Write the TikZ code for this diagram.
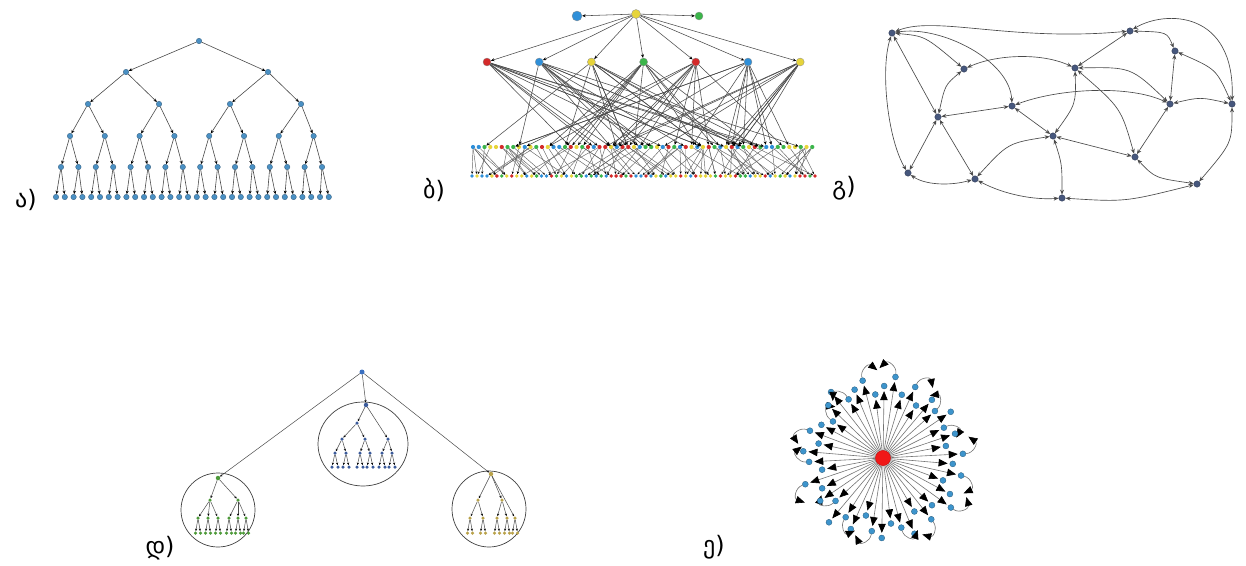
\documentclass[tikz,border=0pt]{standalone}
\usepackage{fontspec}
\newfontfamily\geofont{DejaVu Sans}
\usetikzlibrary{arrows.meta,calc}

\definecolor{edgegray}{HTML}{4A4A4A}
\definecolor{ablue}{HTML}{4A90C4}
\definecolor{bred}{HTML}{D42A2A}
\definecolor{bblue}{HTML}{2F8FD8}
\definecolor{byellow}{HTML}{E6D43A}
\definecolor{bgreen}{HTML}{3BB54A}
\colorlet{bc0}{bred}
\colorlet{bc1}{bblue}
\colorlet{bc2}{byellow}
\colorlet{bc3}{bgreen}
\definecolor{cnode}{HTML}{46577D}
\definecolor{droot}{HTML}{3A6FC0}
\definecolor{dblue}{HTML}{3B5B9B}
\definecolor{dgreen}{HTML}{4E9A3A}
\definecolor{dolive}{HTML}{B9A24A}
\definecolor{ered}{HTML}{F01818}
\definecolor{eblue}{HTML}{3D94CC}

\begin{document}
\begin{tikzpicture}[x=1pt,y=-1pt,
  lbl/.style={font=\geofont\fontsize{24}{28}\selectfont, inner sep=0pt},
  tinytip/.style={-{Stealth[length=3.5pt,width=3pt,black]}},
  anode/.style={circle, inner sep=0pt, minimum size=5.5pt, fill=ablue, draw=ablue!60!black, line width=0.3pt},
  aedge/.style={draw=edgegray, line width=0.6pt, tinytip},
  bbig/.style={circle, inner sep=0pt, minimum size=8pt, draw=black!45, line width=0.3pt},
  bsmall/.style={circle, inner sep=0pt, minimum size=4.2pt},
  bedge/.style={draw=edgegray, line width=0.55pt, tinytip},
  bedgethin/.style={draw=edgegray!85, line width=0.45pt, -{Stealth[length=2.5pt,width=2.2pt,black]}},
  cnodestyle/.style={circle, inner sep=0pt, minimum size=6.5pt, fill=cnode, draw=cnode!60!black, line width=0.3pt},
  cedge/.style={draw=edgegray, line width=0.65pt, {Stealth[length=5pt,width=4pt]}-{Stealth[length=5pt,width=4pt]}},
  dnode/.style={circle, inner sep=0pt, minimum size=3.5pt},
  dedge/.style={draw=edgegray, line width=0.5pt, -{Stealth[length=2.5pt,width=2.2pt,black]}},
  ring/.style={draw=black!75, line width=0.7pt},
  ecentre/.style={circle, inner sep=0pt, minimum size=15pt, fill=ered, draw=ered!80!black, line width=0.3pt},
  eleaf/.style={circle, inner sep=0pt, minimum size=6pt, fill=eblue, draw=eblue!60!black, line width=0.3pt},
  espoke/.style={draw=black!55, line width=0.6pt, -{Triangle[length=9pt,width=7.5pt,black]}, shorten >=2pt},
  ehook/.style={draw=black!55, line width=0.6pt, -{Triangle[length=9pt,width=7.5pt,black]}}
]
\useasboundingbox (0,0) rectangle (1246,565);

% ---------------- (a) binary tree ----------------
\foreach \L/\xo/\dx/\yy/\n in {0/199/0/41/0,1/126/142/72/1,2/88/71/104/3,3/70/34.8/136/7,4/61/17.4/167/15,5/56/8.8/197/31}
  \foreach \i in {0,...,\n}
    \node[anode] (a-\L-\i) at ({\xo+\i*\dx},\yy) {};
\foreach \L in {1,...,5}{
  \pgfmathtruncatemacro{\q}{\L-1}
  \pgfmathtruncatemacro{\n}{2^\L-1}
  \foreach \i in {0,...,\n}{
    \pgfmathtruncatemacro{\p}{floor(\i/2)}
    \draw[aedge] (a-\q-\p) -- (a-\L-\i);
  }
}
\node[lbl] (la) at (26,200) {ა)};

% ---------------- (b) layered graph ----------------
\pgfmathsetseed{4321}
\node[bbig, fill=bblue, minimum size=10pt] (b0-l) at (577,16) {};
\node[bbig, fill=byellow, minimum size=9pt] (b0-c) at (636,14) {};
\node[bbig, fill=bgreen, minimum size=8pt] (b0-r) at (699,16) {};
\draw[bedge] (b0-c) -- (b0-l);
\draw[bedge] (b0-c) -- (b0-r);
\foreach \c [count=\i from 0] in {bred,bblue,byellow,bgreen,bred,bblue,byellow}
  \node[bbig, fill=\c] (b2-\i) at ({487+52.2*\i},62) {};
\foreach \i in {0,...,6}
  \draw[bedge] (b0-c) -- (b2-\i);
\foreach \i in {0,...,59}{
  \pgfmathrandominteger{\c}{0}{3}
  \node[bsmall, fill=bc\c] (b3-\i) at ({473+5.75*\i},147) {};
}
\foreach \i in {0,...,69}{
  \pgfmathrandominteger{\c}{0}{3}
  \node[bsmall, fill=bc\c, minimum size=3.8pt] (b4-\i) at ({472+4.97*\i},176) {};
}
\foreach \r in {0,...,6}
  \foreach \m in {1,...,10}{
    \pgfmathrandominteger{\t}{0}{59}
    \draw[bedge] (b2-\r) -- (b3-\t);
  }
\foreach \i in {0,...,69}{
  \pgfmathrandominteger{\d}{0}{16}
  \pgfmathtruncatemacro{\s}{max(0,min(59,round(\i*59/69)+\d-8))}
  \draw[bedgethin] (b3-\s) -- (b4-\i);
}
\foreach \i in {1,3,...,69}{
  \pgfmathrandominteger{\d}{0}{20}
  \pgfmathtruncatemacro{\s}{max(0,min(59,round(\i*59/69)+\d-10))}
  \draw[bedgethin] (b3-\s) -- (b4-\i);
}
\node[lbl] (lb) at (434,190) {ბ)};

% ---------------- (c) planar graph with curved edges ----------------
\foreach \n/\x/\y in {1/892/33, 2/1130/31, 3/1175/51, 4/964/69, 5/1075/68, 6/1012/106,
  7/1170/104, 8/1232/104, 9/938/117, 10/1053/136, 11/1135/157, 12/908/173,
  13/975/179, 14/1197/184, 15/1062/198}
  \node[cnodestyle] (c\n) at (\x,\y) {};
\draw[cedge] (c1) .. controls (935,15) and (1010,42) .. (c2);
\draw[cedge] (c1) .. controls (925,36) .. (c4);
\draw[cedge] (c1) .. controls (940,25) and (1010,60) .. (c6);
\draw[cedge] (c1) -- (c9);
\draw[cedge] (c1) .. controls (880,70) and (888,140) .. (c12);
\draw[cedge] (c4) .. controls (995,55) and (1040,52) .. (c5);
\draw[cedge] (c4) .. controls (945,85) .. (c9);
\draw[cedge] (c9) -- (c6);
\draw[cedge] (c9) -- (c12);
\draw[cedge] (c9) -- (c13);
\draw[cedge] (c6) -- (c10);
\draw[cedge] (c6) .. controls (1060,88) and (1130,85) .. (c7);
\draw[cedge] (c5) .. controls (1076,104) .. (c10);
\draw[cedge] (c5) .. controls (1121,108) .. (c11);
\draw[cedge] (c5) .. controls (1131,67) .. (c7);
\draw[cedge] (c5) -- (c2);
\draw[cedge] (c2) .. controls (1167,32) .. (c3);
\draw[cedge] (c2) .. controls (1165,10) and (1235,10) .. (c8);
\draw[cedge] (c3) -- (c7);
\draw[cedge] (c3) .. controls (1216,69) .. (c8);
\draw[cedge] (c7) -- (c11);
\draw[cedge] (c7) .. controls (1200,97) .. (c8);
\draw[cedge] (c8) .. controls (1232,143) .. (c14);
\draw[cedge] (c10) -- (c11);
\draw[cedge] (c10) .. controls (1008,143) .. (c13);
\draw[cedge] (c10) .. controls (1062,164) .. (c15);
\draw[cedge] (c11) .. controls (1155,178) .. (c14);
\draw[cedge] (c12) .. controls (925,185) and (950,186) .. (c13);
\draw[cedge] (c13) .. controls (1005,195) and (1035,200) .. (c15);
\draw[cedge] (c15) .. controls (1125,202) .. (c14);
\node[lbl] (lc) at (844,188) {გ)};

% ---------------- (d) tree of clustered subtrees ----------------
\draw[ring] (363,444) ellipse [x radius=45, y radius=42];
\draw[ring] (218,510) ellipse [x radius=37, y radius=37];
\draw[ring] (489,509) ellipse [x radius=37, y radius=38];
\node[dnode, fill=droot, minimum size=5pt] (d0) at (362,372) {};
% middle cluster
\node[dnode, fill=dblue, minimum size=4.5pt] (m0) at (366,405) {};
\node[dnode, fill=dblue] (m1) at (357,423) {};
\node[dnode, fill=dblue] (m2a) at (342,439) {};
\node[dnode, fill=dblue] (m2b) at (365,439) {};
\node[dnode, fill=dblue] (m2c) at (388,439) {};
\draw[dedge] (d0) -- (m0);
\draw[dedge] (m0) -- (m1);
\draw[dedge] (m0) -- (m2c);
\draw[dedge] (m1) -- (m2a);
\draw[dedge] (m1) -- (m2b);
\foreach \x/\p [count=\k] in {335/m2a,346/m2a,360/m2b,370/m2b,382/m2c,392/m2c}{
  \node[dnode, fill=dblue] (m3-\k) at (\x,453) {};
  \node[dnode, fill=dblue] (m4-\k-a) at (\x-3,467) {};
  \node[dnode, fill=dblue] (m4-\k-b) at (\x+3,467) {};
  \draw[dedge] (\p) -- (m3-\k);
  \draw[dedge] (m3-\k) -- (m4-\k-a);
  \draw[dedge] (m3-\k) -- (m4-\k-b);
}
% left cluster
\node[dnode, fill=dgreen, minimum size=4.5pt] (l0) at (218,478) {};
\node[dnode, fill=dgreen] (l1a) at (210,500) {};
\node[dnode, fill=dgreen] (l1b) at (238,500) {};
\draw[dedge] (d0) -- (l0);
\draw[dedge] (l0) -- (l1a);
\draw[dedge] (l0) -- (l1b);
\foreach \x/\p [count=\k] in {198/l1a,208/l1a,218/l1a,229/l1b,238/l1b,246/l1b}{
  \node[dnode, fill=dgreen] (l2-\k) at (\x,518) {};
  \node[dnode, fill=dgreen] (l3-\k-a) at (\x-2.5,533) {};
  \node[dnode, fill=dgreen] (l3-\k-b) at (\x+2.5,533) {};
  \draw[dedge] (\p) -- (l2-\k);
  \draw[dedge] (l2-\k) -- (l3-\k-a);
  \draw[dedge] (l2-\k) -- (l3-\k-b);
}
% right cluster
\node[dnode, fill=dolive, minimum size=4.5pt] (r0) at (491,474) {};
\node[dnode, fill=dolive] (r1a) at (478,500) {};
\node[dnode, fill=dolive] (r1b) at (502,500) {};
\draw[dedge] (d0) -- (r0);
\draw[dedge] (r0) -- (r1a);
\draw[dedge] (r0) -- (r1b);
\foreach \x/\p [count=\k] in {470/r1a,483/r1a,497/r1b,507/r1b,515/r0}{
  \node[dnode, fill=dolive] (r2-\k) at (\x,518) {};
  \node[dnode, fill=dolive] (r3-\k-a) at (\x-2.5,533) {};
  \node[dnode, fill=dolive] (r3-\k-b) at (\x+2.5,533) {};
  \draw[dedge] (\p) -- (r2-\k);
  \draw[dedge] (r2-\k) -- (r3-\k-a);
  \draw[dedge] (r2-\k) -- (r3-\k-b);
}
\node[lbl] (ld) at (160,548) {დ)};

% ---------------- (e) star with curled spokes ----------------
\node[ecentre] (ec) at (883,458) {};
\foreach \r/\h [count=\k] in {70/0,80/1,64/0,76/0,84/2,68/0,78/1,62/0,82/0,72/2,
  66/0,80/0,74/1,60/0,78/0,70/2,84/0,64/1,76/0,68/0,
  82/2,62/0,74/1,80/0,66/0,78/2,70/0,62/1,76/0,84/0,
  68/2,74/0,80/1,64/0,72/0,82/2,66/0,78/1,62/0,76/0,
  70/2,82/0,68/1,76/0,64/0,80/2}{
  \pgfmathsetmacro{\a}{\k*7.826-3}
  \node[eleaf] (e-\k) at ([shift={(\a:\r)}]ec) {};
  \draw[espoke] (ec) -- (e-\k);
  \ifnum\h>0
    \pgfmathsetmacro{\s}{\h==1 ? 1 : -1}
    \coordinate (eh-\k) at ([shift={(\a+\s*11:\r+8)}]ec);
    \draw[ehook] (e-\k) .. controls ([shift={(\a:\r+11)}]ec) and ([shift={(\a+\s*6:\r+16)}]ec) .. (eh-\k);
  \fi
}
\node[ecentre] at (ec) {};
\node[lbl] (le) at (714,547) {ე)};
\end{tikzpicture}
\end{document}
